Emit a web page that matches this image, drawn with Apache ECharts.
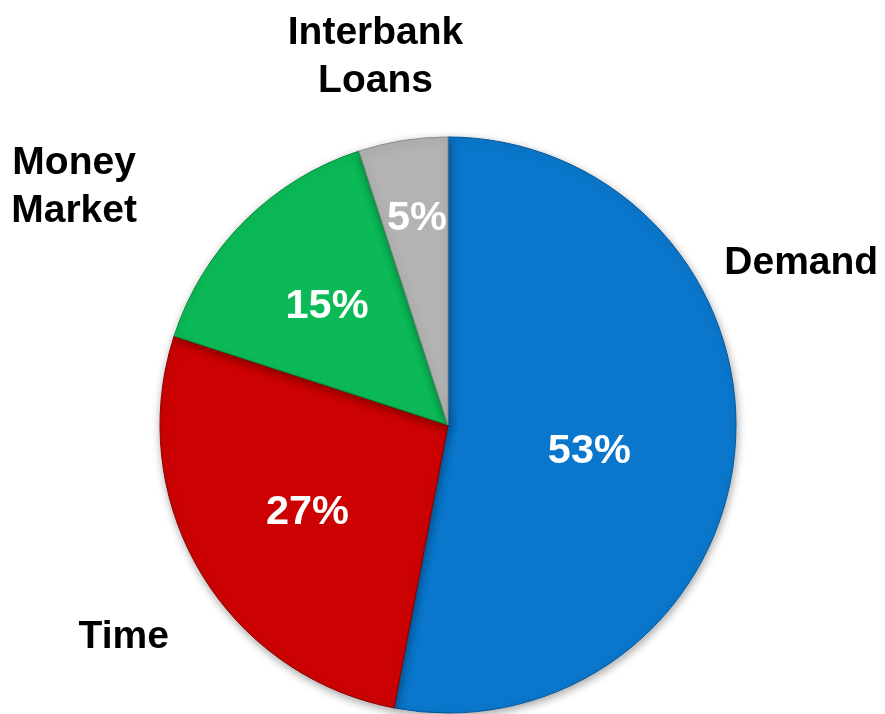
<!DOCTYPE html>
<html>
<head>
<meta charset="utf-8">
<script src="https://cdn.jsdelivr.net/npm/echarts@6/dist/echarts.min.js"></script>
<style>
html,body{margin:0;padding:0;background:#fff;}
#chart{width:885px;height:714px;}
</style>
</head>
<body>
<div id="chart"></div>
<script>
const categories = ['Demand', 'Time', 'Money Market', 'Interbank Loans'];
const shares = [53, 27, 15, 5];
const colors = ['#0A77CC', '#CC0202', '#0BBA56', '#B3B3B3'];
const borders = ['#06589A', '#8E0000', '#078A3E', '#8A8A8A'];

const FONT = 'Arial, "Liberation Sans", sans-serif';
// label fine placement (pixel nudges from library default positions)
const pctNudge = [[-5, 13], [-14, 13], [-17, -14], [-8, -61]];
const nameNudge = [[-38, -199], [14, 12], [-96, 40], [-11, 20]];

const pieData = categories.map((c, i) => ({
  name: c,
  value: shares[i],
  itemStyle: { color: colors[i], borderColor: borders[i] }
}));

const chart = echarts.init(document.getElementById('chart'), null, { renderer: 'canvas' });
chart.setOption({
  animation: false,
  backgroundColor: '#ffffff',
  series: [
    {
      type: 'pie',
      center: [448, 425],
      radius: [0, 288],
      startAngle: 90,
      clockwise: true,
      avoidLabelOverlap: false,
      silent: true,
      itemStyle: {
        borderWidth: 1,
        shadowBlur: 8,
        shadowColor: 'rgba(0,0,0,0.35)',
        shadowOffsetX: 1,
        shadowOffsetY: 3
      },
      label: {
        show: true,
        position: 'inside',
        formatter: p => p.value + '%',
        color: '#ffffff',
        fontFamily: FONT,
        fontWeight: 'bold',
        fontSize: 41.5
      },
      labelLine: { show: false },
      labelLayout: p => ({ dx: pctNudge[p.dataIndex][0], dy: pctNudge[p.dataIndex][1] }),
      data: pieData
    },
    {
      type: 'pie',
      center: [448, 425],
      radius: [380, 400],
      startAngle: 90,
      clockwise: true,
      avoidLabelOverlap: false,
      silent: true,
      z: 3,
      itemStyle: { color: 'rgba(0,0,0,0)', borderWidth: 0 },
      label: {
        show: true,
        position: 'inside',
        formatter: p => p.name.replace(' ', '\n'),
        color: '#000000',
        fontFamily: FONT,
        fontWeight: 'bold',
        fontSize: 39,
        lineHeight: 48
      },
      labelLine: { show: false },
      labelLayout: p => ({ dx: nameNudge[p.dataIndex][0], dy: nameNudge[p.dataIndex][1] }),
      data: categories.map((c, i) => ({ name: c, value: shares[i] }))
    }
  ]
});
</script>
</body>
</html>
